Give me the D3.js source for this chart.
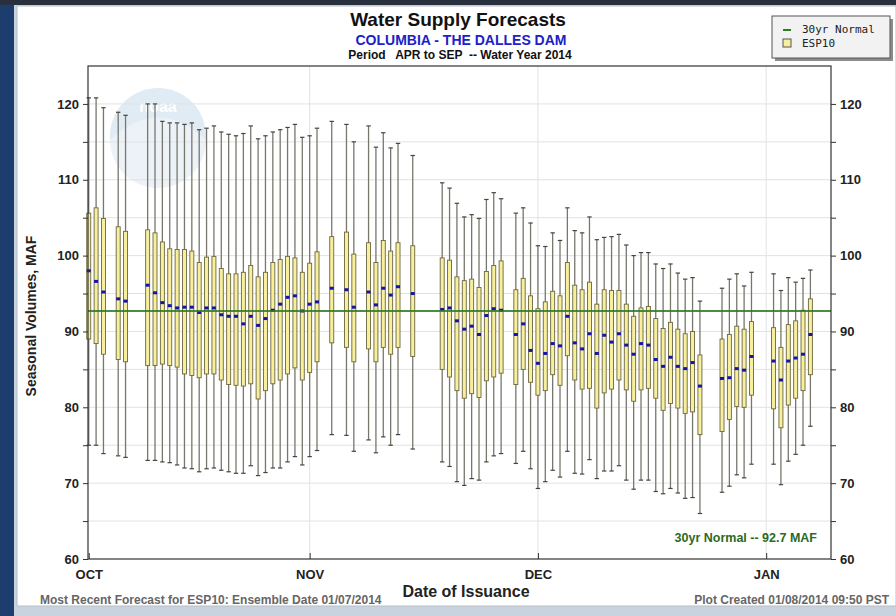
<!DOCTYPE html>
<html>
<head>
<meta charset="utf-8">
<script src="https://cdn.jsdelivr.net/npm/d3@7"></script>
<style>
body { margin: 0; background: #fff; }
svg { display: block; }
.narrow { font-family: "Liberation Sans Narrow", "Arial Narrow", "Liberation Sans", Arial, sans-serif; font-weight: bold; }
</style>
</head>
<body>
<svg id="chart" width="896" height="616"></svg>
<script>
// days after Oct 1 2013 for each ESP10 issuance
const issueDay = [0,1,2,4,5,8,9,10,11,12,13,14,15,16,17,18,19,20,21,22,23,24,25,26,27,28,29,30,31,
	33,35,36,38,39,40,41,42,44,48,49,50,51,52,53,54,55,56,58,59,60,61,62,63,64,65,66,67,68,69,70,
	71,72,73,74,75,76,77,78,79,80,81,82,83,86,87,88,89,90,93,94,95,96,97,98];
const whiskerHigh = [120.8,120.8,119.5,118.9,118.5,120.0,120.0,117.7,117.5,117.5,117.3,117.5,116.6,116.8,
	117.1,116.3,116.0,115.8,116.1,117.1,115.4,115.8,116.3,116.6,116.9,117.3,115.6,115.8,116.8,117.7,
	117.3,115.0,117.1,114.3,116.2,114.2,114.8,113.2,109.6,108.9,106.9,105.1,105.4,104.9,107.4,108.3,
	107.5,105.6,106.3,104.3,101.3,101.2,103.0,102.0,106.3,103.3,103.0,105.1,102.1,102.4,102.5,102.8,
	101.4,100.0,100.4,100.4,98.9,98.3,98.9,97.7,96.9,97.1,94.0,95.7,96.9,97.6,96.0,97.8,97.6,95.4,
	97.1,96.5,97.0,98.1];
const boxHigh = [105.6,106.3,104.9,103.8,103.2,103.4,103.0,101.8,100.9,100.8,100.8,100.6,99.1,99.8,
	99.9,98.3,97.6,97.6,97.8,98.7,97.2,97.8,99.1,99.5,99.9,99.7,97.8,99.0,100.5,102.5,103.1,100.2,
	101.7,99.1,102.0,100.6,101.7,101.3,99.7,99.4,97.2,96.7,96.9,95.8,97.9,98.7,99.3,95.5,97.0,94.7,
	93.0,93.9,95.3,94.7,99.1,96.1,95.5,96.5,93.6,95.5,95.4,95.4,93.6,92.0,93.1,93.3,91.7,90.4,91.2,
	90.3,89.7,90.0,86.9,89.0,89.6,90.7,90.3,91.3,90.5,87.9,90.9,91.4,92.8,94.3];
const median = [98.0,96.6,95.2,94.3,94.0,96.1,95.1,93.8,93.4,93.1,93.2,93.2,92.5,93.1,93.1,92.2,92.0,
	92.0,91.0,92.0,90.8,91.7,92.8,93.6,94.5,94.7,92.7,93.6,93.9,95.7,95.5,93.2,95.2,93.5,95.7,94.8,
	95.9,95.0,92.9,93.1,91.4,90.3,90.7,89.6,92.1,93.0,92.8,89.6,91.0,87.5,85.8,87.1,88.4,88.1,92.0,
	88.5,87.7,89.7,87.1,89.5,88.6,89.7,88.2,87.0,88.4,88.2,86.3,85.4,86.6,85.4,85.1,85.9,82.8,83.8,
	83.9,85.1,84.9,86.7,86.1,83.6,86.1,86.5,87.0,89.6];
const boxLow = [89.0,88.4,87.0,86.3,86.0,85.5,85.5,85.7,85.5,85.3,84.4,84.2,83.9,84.4,84.4,83.6,83.0,
	82.9,82.8,83.1,81.1,82.2,83.1,83.6,84.4,85.2,83.6,84.6,86.0,88.5,87.9,86.0,87.7,86.0,87.9,87.0,
	87.9,86.7,85.0,84.0,82.2,81.2,81.8,81.3,83.5,84.0,84.5,83.0,85.0,83.3,81.6,82.2,84.3,82.9,86.8,
	83.6,82.4,82.5,79.9,81.9,82.4,83.6,82.3,80.8,82.3,82.5,81.2,79.6,80.5,79.9,79.2,79.4,76.4,76.8,
	78.4,80.1,80.0,81.6,79.8,77.3,80.3,81.2,82.2,84.3];
const whiskerLow = [75.0,75.0,73.9,73.6,73.4,73.0,73.0,72.8,72.7,72.4,72.0,71.9,71.5,71.9,72.0,71.7,
	71.5,71.3,71.3,72.3,71.0,71.4,72.0,72.0,72.8,73.5,72.4,73.5,74.3,76.4,76.3,74.2,75.7,74.0,76.1,
	75.0,76.4,74.5,72.8,72.2,70.2,69.7,70.6,70.4,72.8,73.6,73.9,72.6,74.2,71.9,69.3,70.2,71.7,70.8,
	74.2,71.3,71.2,73.1,70.6,71.6,71.6,72.3,70.4,69.2,70.4,70.4,68.9,68.6,69.3,68.7,68.0,68.1,66.0,
	68.8,69.6,71.1,70.7,72.5,72.5,69.8,72.9,73.8,75.0,77.5];
const normal30yr = 92.7;
const monthDays = [0, 30, 61, 92];
const monthLabels = ["OCT", "NOV", "DEC", "JAN"];
const yTicks = [60,65,70,75,80,85,90,95,100,105,110,115,120];

const svg = d3.select("#chart");
const W = 896, H = 616;
const area = {left: 88, right: 831, top: 66, bottom: 559};

// page frame
svg.append("rect").attr("width", W).attr("height", H).attr("fill", "#c9d3df");
svg.append("rect").attr("x", 0).attr("y", 0).attr("width", 14).attr("height", H).attr("fill", "#1d3d6f");
svg.append("rect").attr("x", 0).attr("y", 0).attr("width", W).attr("height", 5).attr("fill", "#27303c");
svg.append("rect").attr("x", 17).attr("y", 6).attr("width", W - 17).attr("height", 600)
	.attr("fill", "#fff").attr("stroke", "#b8bec6");

const scX = d3.scaleLinear().domain([-0.1, 100.8]).range([area.left, area.right]);
const scY = d3.scaleLinear().domain([60, 125]).range([area.bottom, area.top]);

// watermark
const wm = svg.append("g").attr("opacity", 0.55);
wm.append("circle").attr("cx", 158).attr("cy", 136).attr("r", 48).attr("fill", "#c7dcec");
wm.append("path").attr("d", "M110,140 Q158,95 206,140 A48,48 0 0,1 110,140 Z").attr("fill", "#dde9f3");
wm.append("text").attr("x", 158).attr("y", 112).attr("text-anchor", "middle")
	.attr("fill", "#fff").style("font", "bold 16px 'Liberation Sans'").text("noaa");

// grid
svg.append("g").selectAll("line").data(yTicks.slice(1)).enter().append("line")
	.attr("x1", area.left).attr("x2", area.right)
	.attr("y1", d => scY(d)).attr("y2", d => scY(d))
	.attr("stroke", "#e2e2e2");
svg.append("g").selectAll("line").data(monthDays.slice(1)).enter().append("line")
	.attr("x1", d => scX(d)).attr("x2", d => scX(d))
	.attr("y1", area.top).attr("y2", area.bottom)
	.attr("stroke", "#e2e2e2");

// box plots
const rows = issueDay.map((d, i) => ({
	day: d, hi: whiskerHigh[i], q3: boxHigh[i], med: median[i], q1: boxLow[i], lo: whiskerLow[i]
}));
const box = svg.append("g").selectAll("g").data(rows).enter().append("g")
	.attr("transform", d => `translate(${scX(d.day)},0)`);
box.append("line")
	.attr("y1", d => scY(d.hi)).attr("y2", d => scY(d.lo))
	.attr("stroke", "#77776c").attr("stroke-width", 1.3);
box.append("line").attr("x1", -2.2).attr("x2", 2.2)
	.attr("y1", d => scY(d.hi)).attr("y2", d => scY(d.hi))
	.attr("stroke", "#444").attr("stroke-width", 1.2);
box.append("line").attr("x1", -2.2).attr("x2", 2.2)
	.attr("y1", d => scY(d.lo)).attr("y2", d => scY(d.lo))
	.attr("stroke", "#444").attr("stroke-width", 1.2);
box.append("rect").attr("x", -2).attr("width", 4)
	.attr("y", d => scY(d.q3)).attr("height", d => scY(d.q1) - scY(d.q3))
	.attr("fill", "#f7ef9c").attr("stroke", "#6b6640").attr("stroke-width", 0.9);

// 30yr normal line
svg.append("line")
	.attr("x1", area.left).attr("x2", area.right)
	.attr("y1", scY(normal30yr)).attr("y2", scY(normal30yr))
	.attr("stroke", "#2f7a22").attr("stroke-width", 2).attr("opacity", 0.85);

// medians on top
box.append("rect").attr("x", -2).attr("width", 4)
	.attr("y", d => scY(d.med) - 1.5).attr("height", 3)
	.attr("fill", "#1414a8");

// frame
svg.append("rect").attr("x", area.left).attr("y", area.top)
	.attr("width", area.right - area.left).attr("height", area.bottom - area.top)
	.attr("fill", "none").attr("stroke", "#333").attr("stroke-width", 1.2);

// axes
const fmtY = d => d % 10 === 0 ? d : "";
const axL = svg.append("g").attr("transform", `translate(${area.left},0)`)
	.call(d3.axisLeft(scY).tickValues(yTicks).tickSize(5).tickPadding(4).tickFormat(fmtY));
const axR = svg.append("g").attr("transform", `translate(${area.right},0)`)
	.call(d3.axisRight(scY).tickValues(yTicks).tickSize(5).tickPadding(4).tickFormat(fmtY));
const axB = svg.append("g").attr("transform", `translate(0,${area.bottom})`)
	.call(d3.axisBottom(scX).tickValues(monthDays).tickSize(-6).tickPadding(8)
		.tickFormat((d, i) => monthLabels[i]));
[axL, axR, axB].forEach(a => {
	a.select(".domain").remove();
	a.selectAll("line").attr("stroke", "#333");
	a.selectAll("text").attr("class", "narrow").attr("fill", "#222").style("font-size", "13px");
});
axB.selectAll("text").attr("dy", "0.9em");

// titles
const txt = (x, y, s, size, fill, anchor) => svg.append("text")
	.attr("x", x).attr("y", y).attr("class", "narrow")
	.attr("text-anchor", anchor || "middle").attr("fill", fill)
	.style("font-size", size + "px").text(s);
txt(458, 26, "Water Supply Forecasts", 19, "#111");
txt(461, 44.5, "COLUMBIA - THE DALLES DAM", 14, "#2020c8");
txt(460, 59, "Period   APR to SEP  -- Water Year 2014", 12, "#111").style("white-space", "pre");
txt(466, 597, "Date of Issuance", 16, "#222");
txt(40, 604, "Most Recent Forecast for ESP10: Ensemble Date 01/07/2014", 12, "#666", "start");
txt(889, 604, "Plot Created 01/08/2014 09:50 PST", 12, "#666", "end");
txt(817, 542, "30yr Normal -- 92.7 MAF", 12.5, "#2d6a1f", "end");
txt(0, 0, "Seasonal Volumes, MAF", 14, "#222")
	.attr("transform", "translate(36,316) rotate(-90)");

// legend
const lg = svg.append("g").attr("transform", "translate(772,16)");
lg.append("rect").attr("x", 3).attr("y", 3).attr("width", 118).attr("height", 42).attr("fill", "#8c8c8c");
lg.append("rect").attr("width", 118).attr("height", 42).attr("fill", "#f2f2f2").attr("stroke", "#555");
lg.append("line").attr("x1", 11).attr("x2", 19).attr("y1", 14).attr("y2", 14)
	.attr("stroke", "#2f7a22").attr("stroke-width", 2);
lg.append("rect").attr("x", 11).attr("y", 23).attr("width", 8).attr("height", 8)
	.attr("fill", "#f7ef9c").attr("stroke", "#555");
lg.selectAll(".lt").data(["30yr Normal", "ESP10"]).enter().append("text")
	.attr("x", 30).attr("y", (d, i) => 17 + i * 14)
	.attr("fill", "#222").style("font", "11px 'DejaVu Sans Mono', monospace").text(d => d);
</script>
</body>
</html>
